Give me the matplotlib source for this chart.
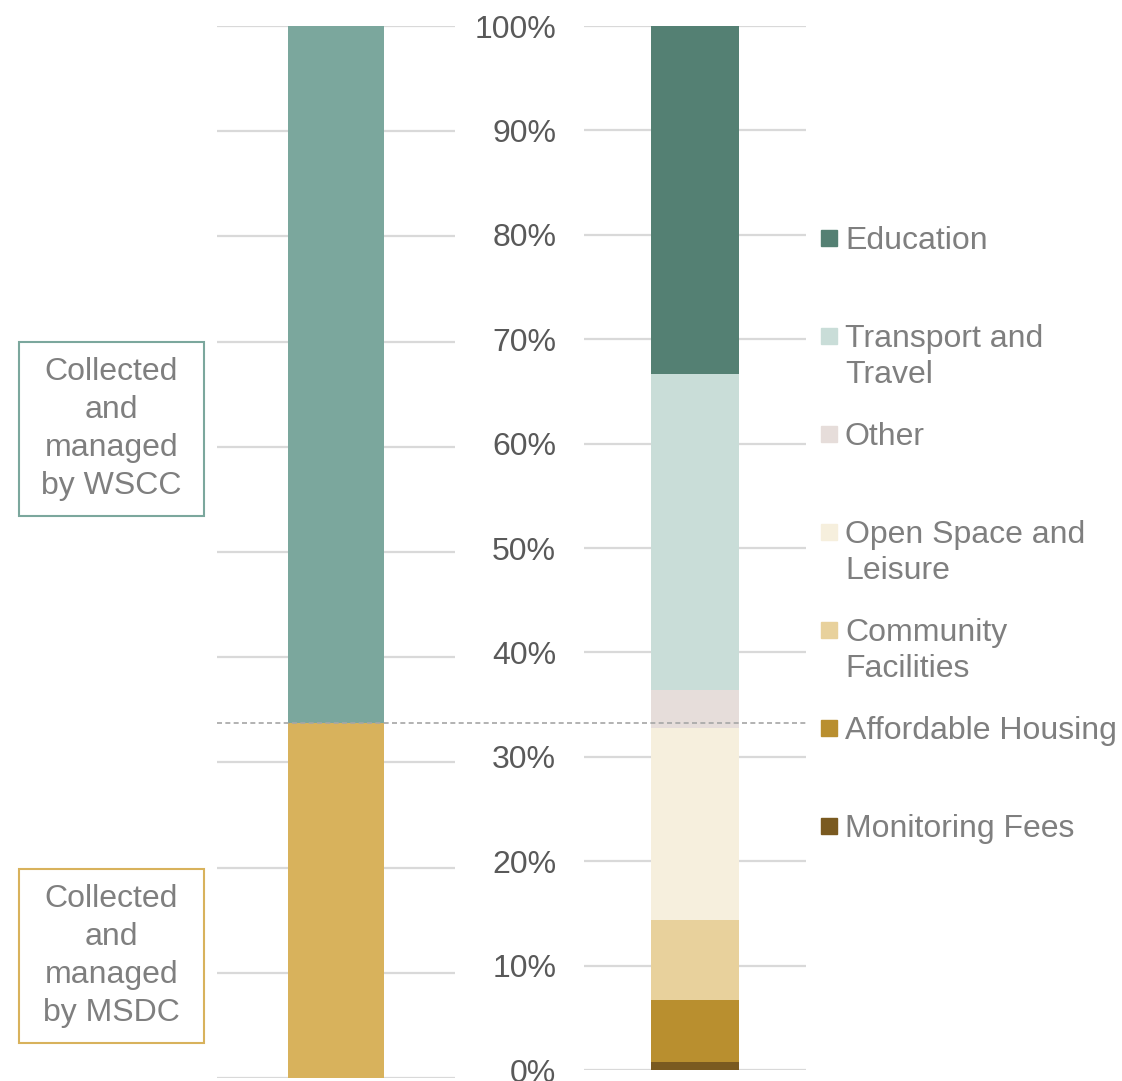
import matplotlib as mpl
mpl.use('Agg')
import matplotlib.pyplot as plt
from matplotlib.patches import Rectangle
from matplotlib.lines import Line2D

plt.rcParams['font.family'] = ['Liberation Sans', 'DejaVu Sans']

# left bar: who collects / manages
owner_names = ['Collected\nand\nmanaged\nby MSDC', 'Collected\nand\nmanaged\nby WSCC']
owner_share = [33.7, 66.3]
owner_colors = ['#D8B25C', '#7BA79D']

# right bar: split by type (bottom to top)
type_names = ['Monitoring Fees', 'Affordable Housing', 'Community\nFacilities',
              'Open Space and\nLeisure', 'Other', 'Transport and\nTravel', 'Education']
type_share = [0.8, 5.9, 7.7, 18.4, 3.6, 30.3, 33.3]
type_colors = ['#7A5A20', '#B98F2F', '#E8D19C', '#F6EFDD', '#E6DDDA', '#C9DDD8', '#548073']

ticks = list(range(0, 101, 10))
tick_labels = ['%d%%' % t for t in ticks]

W, H = 1122, 1081
fig = plt.figure(figsize=(W / 100, H / 100), dpi=100)

grid_col = '#D9D9D9'
txt_col = '#7F7F7F'
fs = 23


def fx(px):
    return px / W


def fy(py):
    return 1 - py / H


def style(ax):
    for s in ax.spines.values():
        s.set_visible(False)
    ax.set_ylim(0, 100)
    ax.set_xlim(-0.5, 0.5)
    ax.set_yticks(ticks)
    ax.yaxis.grid(True, color=grid_col, lw=1.6)
    ax.set_axisbelow(True)
    ax.set_xticks([])
    ax.tick_params(axis='y', length=0)


ax1 = fig.add_axes([fx(217), fy(1078), fx(455) - fx(217), fy(26) - fy(1078)])
style(ax1)
ax1.set_yticklabels([])
bottom = 0
for v, c in zip(owner_share, owner_colors):
    ax1.bar(0, v, width=0.403, bottom=bottom, color=c, zorder=2)
    bottom += v

ax2 = fig.add_axes([fx(584), fy(1070), fx(806) - fx(584), fy(26) - fy(1070)])
style(ax2)
ax2.set_yticklabels(tick_labels, fontsize=fs, color='#595959')
ax2.tick_params(axis='y', pad=20)
bottom = 0
for v, c in zip(type_share, type_colors):
    ax2.bar(0, v, width=0.40, bottom=bottom, color=c, zorder=2)
    bottom += v

# dashed divider at the MSDC / WSCC boundary
fig.canvas.draw()
yd = ax1.transData.transform((0, owner_share[0]))[1]
yf = fig.transFigure.inverted().transform((0, yd))[1]
fig.add_artist(Line2D([fx(217), fx(806)], [yf, yf], transform=fig.transFigure,
                      color='#A6A6A6', lw=1.2, ls=(0, (3, 2)), zorder=5))

# boxed labels on the left
boxes = [(869, 1043, owner_colors[0], owner_names[0]),
         (342, 516, owner_colors[1], owner_names[1])]
for top, bot, c, label in boxes:
    fig.add_artist(Rectangle((fx(19), fy(bot)), fx(204) - fx(19), fy(top) - fy(bot),
                             transform=fig.transFigure, fill=False, edgecolor=c, lw=1.5))
    fig.text(fx(111.5), fy((top + bot) / 2), label, ha='center', va='center',
             fontsize=fs, color=txt_col, linespacing=1.34)

# legend, top entry first
for i, (name, c) in enumerate(zip(type_names[::-1], type_colors[::-1])):
    yc = 238 + 98 * i
    fig.add_artist(Rectangle((fx(821), fy(yc + 8)), fx(16), fy(0) - fy(16),
                             transform=fig.transFigure, color=c))
    fig.text(fx(845), fy(yc - 12), name, ha='left', va='top',
             fontsize=fs, color=txt_col, linespacing=1.25)

plt.savefig('out.png', dpi=100)
